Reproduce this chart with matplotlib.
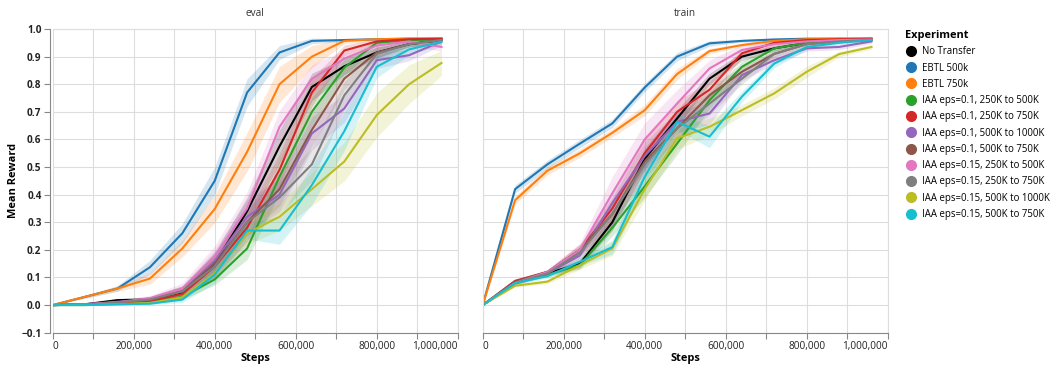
import matplotlib.pyplot as plt
from matplotlib.lines import Line2D

plt.rcParams['font.family'] = ['Open Sans', 'DejaVu Sans']

# -------------------------
# DATA
# -------------------------
steps = [0, 80000, 160000, 240000, 320000, 400000, 480000,
         560000, 640000, 720000, 800000, 880000, 960000]

experiments = [
    "No Transfer", "EBTL 500k", "EBTL 750k",
    "IAA eps=0.1, 250K to 500K", "IAA eps=0.1, 250K to 750K",
    "IAA eps=0.1, 500K to 1000K", "IAA eps=0.1, 500K to 750K",
    "IAA eps=0.15, 250K to 500K", "IAA eps=0.15, 250K to 750K",
    "IAA eps=0.15, 500K to 1000K", "IAA eps=0.15, 500K to 750K",
]
colors = ["#000000", "#1f77b4", "#ff7f0e", "#2ca02c", "#d62728", "#9467bd",
          "#8c564b", "#e377c2", "#7f7f7f", "#bcbd22", "#17becf"]

# eval means
eval_no_transfer = [0, 0.003, 0.018, 0.02, 0.046, 0.15, 0.34, 0.575, 0.79, 0.865, 0.915, 0.945, 0.96]
eval_ebtl_500 = [0, 0.03, 0.06, 0.137, 0.26, 0.45, 0.77, 0.915, 0.957, 0.96, 0.963, 0.965, 0.965]
eval_ebtl_750 = [0, 0.03, 0.06, 0.096, 0.205, 0.348, 0.555, 0.80, 0.90, 0.957, 0.963, 0.965, 0.965]
eval_01_250_500 = [0, 0.002, 0.005, 0.01, 0.03, 0.093, 0.205, 0.465, 0.70, 0.86, 0.95, 0.96, 0.962]
eval_01_250_750 = [0, 0.002, 0.01, 0.015, 0.04, 0.14, 0.28, 0.49, 0.77, 0.922, 0.955, 0.963, 0.965]
eval_01_500_1000 = [0, 0.003, 0.012, 0.022, 0.05, 0.16, 0.32, 0.40, 0.622, 0.712, 0.887, 0.905, 0.955]
eval_01_500_750 = [0, 0.002, 0.01, 0.02, 0.05, 0.15, 0.30, 0.42, 0.635, 0.82, 0.915, 0.945, 0.96]
eval_015_250_500 = [0, 0.003, 0.01, 0.025, 0.06, 0.175, 0.35, 0.645, 0.82, 0.893, 0.94, 0.955, 0.935]
eval_015_250_750 = [0, 0.002, 0.01, 0.02, 0.05, 0.14, 0.30, 0.39, 0.51, 0.76, 0.91, 0.945, 0.96]
eval_015_500_1000 = [0, 0.0, 0.003, 0.008, 0.028, 0.115, 0.26, 0.32, 0.42, 0.52, 0.688, 0.80, 0.877]
eval_015_500_750 = [0, 0.0, 0.003, 0.005, 0.02, 0.11, 0.27, 0.27, 0.435, 0.63, 0.863, 0.926, 0.954]

# eval confidence half-widths
eval_ci_no_transfer = [0, 0.003, 0.006, 0.01, 0.02, 0.04, 0.05, 0.06, 0.05, 0.03, 0.02, 0.01, 0.01]
eval_ci_ebtl_500 = [0, 0.005, 0.01, 0.025, 0.035, 0.05, 0.05, 0.025, 0.01, 0.005, 0.003, 0.003, 0.003]
eval_ci_ebtl_750 = [0, 0.005, 0.01, 0.02, 0.03, 0.05, 0.07, 0.065, 0.04, 0.01, 0.005, 0.003, 0.003]
eval_ci_01_250_500 = [0, 0.002, 0.003, 0.005, 0.01, 0.02, 0.04, 0.06, 0.05, 0.03, 0.01, 0.005, 0.005]
eval_ci_01_250_750 = [0, 0.002, 0.004, 0.008, 0.02, 0.04, 0.05, 0.06, 0.05, 0.02, 0.01, 0.005, 0.003]
eval_ci_01_500_1000 = [0, 0.002, 0.005, 0.01, 0.02, 0.04, 0.06, 0.06, 0.06, 0.05, 0.03, 0.02, 0.015]
eval_ci_01_500_750 = [0, 0.002, 0.005, 0.01, 0.02, 0.04, 0.05, 0.06, 0.06, 0.04, 0.02, 0.01, 0.01]
eval_ci_015_250_500 = [0, 0.002, 0.005, 0.01, 0.02, 0.04, 0.06, 0.06, 0.05, 0.03, 0.02, 0.015, 0.015]
eval_ci_015_250_750 = [0, 0.002, 0.005, 0.01, 0.02, 0.04, 0.05, 0.06, 0.06, 0.05, 0.03, 0.015, 0.01]
eval_ci_015_500_1000 = [0, 0.001, 0.002, 0.004, 0.01, 0.02, 0.04, 0.05, 0.06, 0.07, 0.08, 0.07, 0.045]
eval_ci_015_500_750 = [0, 0.001, 0.002, 0.004, 0.01, 0.03, 0.03, 0.05, 0.07, 0.07, 0.04, 0.02, 0.01]

# train means
train_no_transfer = [0, 0.08, 0.115, 0.15, 0.30, 0.53, 0.676, 0.82, 0.90, 0.93, 0.95, 0.96, 0.962]
train_ebtl_500 = [0, 0.42, 0.51, 0.585, 0.658, 0.788, 0.90, 0.948, 0.957, 0.962, 0.965, 0.965, 0.965]
train_ebtl_750 = [0, 0.38, 0.487, 0.55, 0.624, 0.706, 0.837, 0.92, 0.942, 0.957, 0.963, 0.965, 0.965]
train_01_250_500 = [0, 0.08, 0.11, 0.145, 0.28, 0.43, 0.585, 0.742, 0.863, 0.93, 0.95, 0.96, 0.962]
train_01_250_750 = [0, 0.088, 0.12, 0.20, 0.35, 0.55, 0.70, 0.78, 0.912, 0.95, 0.96, 0.963, 0.965]
train_01_500_1000 = [0, 0.08, 0.115, 0.18, 0.37, 0.54, 0.664, 0.694, 0.833, 0.887, 0.93, 0.935, 0.955]
train_01_500_750 = [0, 0.085, 0.12, 0.20, 0.33, 0.52, 0.64, 0.76, 0.845, 0.91, 0.945, 0.955, 0.96]
train_015_250_500 = [0, 0.08, 0.12, 0.20, 0.405, 0.60, 0.73, 0.857, 0.924, 0.945, 0.955, 0.96, 0.962]
train_015_250_750 = [0, 0.08, 0.115, 0.19, 0.33, 0.51, 0.64, 0.73, 0.82, 0.91, 0.945, 0.955, 0.96]
train_015_500_1000 = [0, 0.07, 0.085, 0.145, 0.205, 0.42, 0.604, 0.646, 0.706, 0.767, 0.845, 0.909, 0.935]
train_015_500_750 = [0, 0.08, 0.105, 0.157, 0.21, 0.465, 0.664, 0.61, 0.755, 0.875, 0.935, 0.95, 0.96]

# train confidence half-widths
train_ci_no_transfer = [0, 0.005, 0.008, 0.015, 0.03, 0.04, 0.03, 0.02, 0.015, 0.01, 0.005, 0.005, 0.005]
train_ci_ebtl_500 = [0, 0.015, 0.015, 0.015, 0.015, 0.015, 0.015, 0.01, 0.005, 0.005, 0.003, 0.003, 0.003]
train_ci_ebtl_750 = [0, 0.015, 0.015, 0.015, 0.015, 0.02, 0.02, 0.01, 0.005, 0.005, 0.003, 0.003, 0.003]
train_ci_01_250_500 = [0, 0.005, 0.008, 0.015, 0.03, 0.04, 0.04, 0.03, 0.02, 0.01, 0.005, 0.005, 0.005]
train_ci_01_250_750 = [0, 0.005, 0.008, 0.02, 0.04, 0.05, 0.04, 0.03, 0.015, 0.01, 0.005, 0.005, 0.005]
train_ci_01_500_1000 = [0, 0.005, 0.008, 0.02, 0.04, 0.05, 0.04, 0.04, 0.02, 0.015, 0.01, 0.01, 0.008]
train_ci_01_500_750 = [0, 0.005, 0.008, 0.02, 0.04, 0.04, 0.04, 0.03, 0.02, 0.01, 0.005, 0.005, 0.005]
train_ci_015_250_500 = [0, 0.005, 0.01, 0.025, 0.06, 0.06, 0.05, 0.03, 0.02, 0.01, 0.005, 0.005, 0.005]
train_ci_015_250_750 = [0, 0.005, 0.008, 0.02, 0.04, 0.05, 0.05, 0.04, 0.02, 0.015, 0.01, 0.005, 0.005]
train_ci_015_500_1000 = [0, 0.005, 0.008, 0.015, 0.025, 0.04, 0.04, 0.03, 0.02, 0.02, 0.02, 0.01, 0.008]
train_ci_015_500_750 = [0, 0.005, 0.008, 0.015, 0.025, 0.04, 0.03, 0.04, 0.02, 0.015, 0.01, 0.005, 0.005]

eval_means = [eval_no_transfer, eval_ebtl_500, eval_ebtl_750, eval_01_250_500,
              eval_01_250_750, eval_01_500_1000, eval_01_500_750, eval_015_250_500,
              eval_015_250_750, eval_015_500_1000, eval_015_500_750]
eval_cis = [eval_ci_no_transfer, eval_ci_ebtl_500, eval_ci_ebtl_750, eval_ci_01_250_500,
            eval_ci_01_250_750, eval_ci_01_500_1000, eval_ci_01_500_750, eval_ci_015_250_500,
            eval_ci_015_250_750, eval_ci_015_500_1000, eval_ci_015_500_750]
train_means = [train_no_transfer, train_ebtl_500, train_ebtl_750, train_01_250_500,
               train_01_250_750, train_01_500_1000, train_01_500_750, train_015_250_500,
               train_015_250_750, train_015_500_1000, train_015_500_750]
train_cis = [train_ci_no_transfer, train_ci_ebtl_500, train_ci_ebtl_750, train_ci_01_250_500,
             train_ci_01_250_750, train_ci_01_500_1000, train_ci_01_500_750, train_ci_015_250_500,
             train_ci_015_250_750, train_ci_015_500_1000, train_ci_015_500_750]

x_ticks = [0, 100000, 200000, 300000, 400000, 500000, 600000, 700000, 800000, 900000, 1000000]
y_ticks = [-0.1, 0.0, 0.1, 0.2, 0.3, 0.4, 0.5, 0.6, 0.7, 0.8, 0.9, 1.0]

# -------------------------
# FIGURE
# -------------------------
W, H = 1060, 369
fig = plt.figure(figsize=(W / 100, H / 100), dpi=100)


def px_axes(x0, y_top, w, h):
    return fig.add_axes([x0 / W, (H - y_top - h) / H, w / W, h / H])


def style_panel(ax, title, show_y):
    ax.set_xlim(0, 1000000)
    ax.set_ylim(-0.1, 1.0)
    ax.set_xticks(x_ticks)
    ax.set_xticklabels([f"{t:,}" if t % 200000 == 0 else "" for t in x_ticks])
    ax.set_yticks(y_ticks)
    ax.grid(True, color="#dddddd", linewidth=0.8)
    ax.set_axisbelow(True)
    for sp in ax.spines.values():
        sp.set_color("#dddddd")
        sp.set_linewidth(0.8)
    ax.spines["bottom"].set_color("#888888")
    ax.tick_params(axis="x", colors="#888888", length=4, width=0.8,
                   labelcolor="#222222", labelsize=7.2, pad=2)
    labels = ax.get_xticklabels()
    labels[0].set_ha("left")
    labels[-1].set_ha("right")
    if show_y:
        ax.spines["left"].set_color("#888888")
        ax.spines["left"].set_position(("outward", 2))
        ax.set_yticklabels([f"{t:.1f}".replace("-", "\u2212") for t in y_ticks])
        ax.tick_params(axis="y", colors="#888888", length=4, width=0.8,
                       labelcolor="#222222", labelsize=7.2, pad=2)
        for lbl in ax.get_yticklabels():
            lbl.set_fontweight("bold")
        ax.set_ylabel("Mean Reward", fontsize=7.9, fontweight="bold", labelpad=2)
    else:
        ax.tick_params(axis="y", length=0, labelleft=False)
    ax.set_xlabel("Steps", fontsize=7.9, fontweight="bold", labelpad=1)
    ax.set_title(title, fontsize=7.2, color="#333333", pad=9)


def draw_panel(ax, means, cis):
    for mean, ci, color in zip(means, cis, colors):
        lo = [m - c for m, c in zip(mean, ci)]
        hi = [m + c for m, c in zip(mean, ci)]
        ax.fill_between(steps, lo, hi, color=color, alpha=0.18, linewidth=0)
    for mean, color in zip(means, colors):
        ax.plot(steps, mean, color=color, linewidth=1.5)


ax_eval = px_axes(52.7, 29, 405, 303.7)
ax_train = px_axes(482.7, 29, 405, 303.7)

draw_panel(ax_eval, eval_means, eval_cis)
draw_panel(ax_train, train_means, train_cis)
style_panel(ax_eval, "eval", True)
style_panel(ax_train, "train", False)

handles = [Line2D([], [], linestyle="none", marker="o", markersize=7,
                  markerfacecolor=c, markeredgecolor=c) for c in colors]
leg = fig.legend(handles, experiments, title="Experiment", loc="upper left",
                 bbox_to_anchor=(905 / W, 1 - 30 / H), frameon=False,
                 fontsize=6.9, title_fontproperties={"weight": "bold", "size": 7.9},
                 handletextpad=0.55, labelspacing=0.55, handlelength=1.2,
                 borderaxespad=0, borderpad=0)
leg._legend_box.align = "left"

fig.savefig("out.png", dpi=100)
